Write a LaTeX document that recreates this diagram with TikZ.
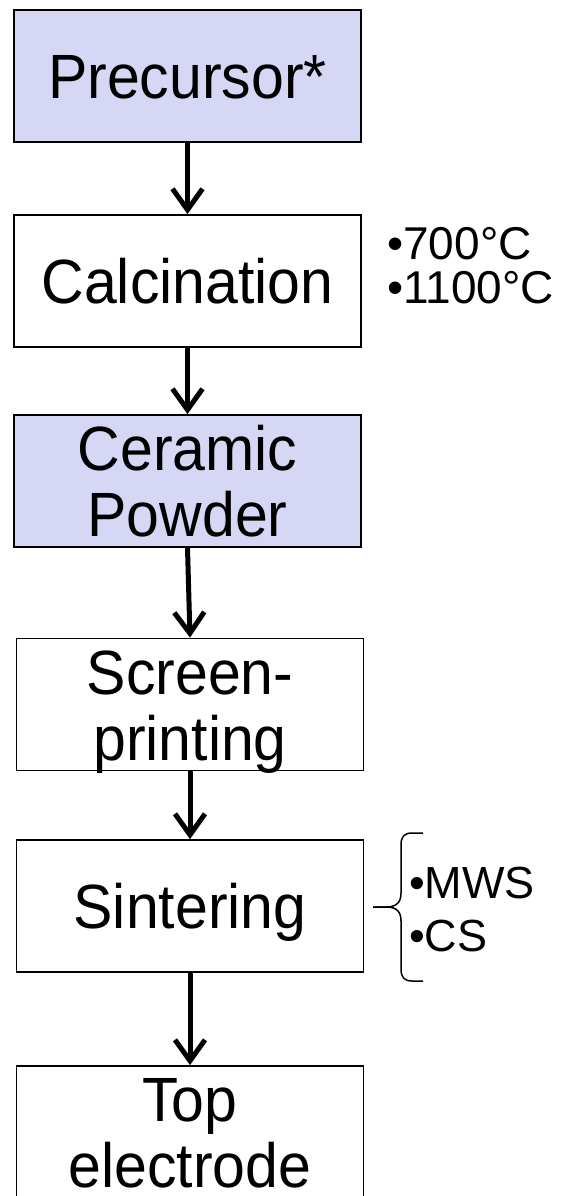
\documentclass[tikz,border=0pt]{standalone}
\usepackage{fontspec}
\setmainfont{Liberation Sans}
\usetikzlibrary{arrows.meta}
\definecolor{boxfill}{RGB}{214,214,245}
% step label: centred lines, slightly tall letters
\newcommand{\steplabel}[1]{\scalebox{1}[1.06]{\begin{tabular}[b]{@{}c@{}}#1\end{tabular}}}
\newcommand{\notelabel}[1]{\begin{tabular}[b]{@{}l@{}}#1\end{tabular}}
\begin{document}
\begin{tikzpicture}[x=1pt,y=-1pt,
  stepbox/.style={draw=black, line width=1.8pt, minimum width=347pt,
    minimum height=132pt, inner sep=0pt,
    font=\fontsize{59}{62}\selectfont, text depth=0pt},
  oneline/.style={text height=45pt},
  twoline/.style={text height=111pt},
  note/.style={inner sep=0pt, anchor=south west, text depth=0pt},
  flow/.style={line width=5pt, -{Straight Barb[length=21pt,width=30pt,sharp]}},
  bracket/.style={line width=1.5pt}]
\useasboundingbox (0,0) rectangle (560,1196);
\clip (0,0) rectangle (560,1196);

% process steps
\node[stepbox, oneline, fill=boxfill] (pre) at (187.5,76) {\steplabel{Precursor*}};
\node[stepbox, oneline] (cal) at (187.5,281) {\steplabel{Calcination}};
\node[stepbox, twoline, fill=boxfill] (cer) at (187.5,481) {\steplabel{Ceramic\\Powder}};
\node[stepbox, twoline] (scr) at (190,704.5) {\steplabel{Screen-\\printing}};
\node[stepbox, oneline] (sin) at (190,906) {\steplabel{Sintering}};
\node[stepbox, twoline] (topel) at (190,1132) {\steplabel{Top\\electrode}};

% flow arrows
\draw[flow] (pre.south) -- (cal.north);
\draw[flow] (cal.south) -- (cer.north);
\draw[flow] (cer.south) -- (scr.north);
\draw[flow] (scr.south) -- (sin.north);
\draw[flow] (sin.south) -- (topel.north);

% calcination temperatures
\node[note, font=\fontsize{46}{39}\selectfont, text height=72pt]
  (calnote) at (387,304) {\notelabel{•700°C\\•1100°C}};

% sintering methods with brace
\draw[bracket] (423,833) -- (412,833)
  .. controls (404,833) and (401,837) .. (401,845) -- (401,893)
  .. controls (401,902) and (397,907) .. (386,907) -- (373,907);
\draw[bracket] (373,907) -- (386,907)
  .. controls (397,907) and (401,912) .. (401,921) -- (401,969)
  .. controls (401,977) and (404,981) .. (412,981) -- (423,981);
\node[note, font=\fontsize{45}{53}\selectfont, text height=85pt]
  (sinnote) at (409,952) {\notelabel{•MWS\\•CS}};
\end{tikzpicture}
\end{document}
